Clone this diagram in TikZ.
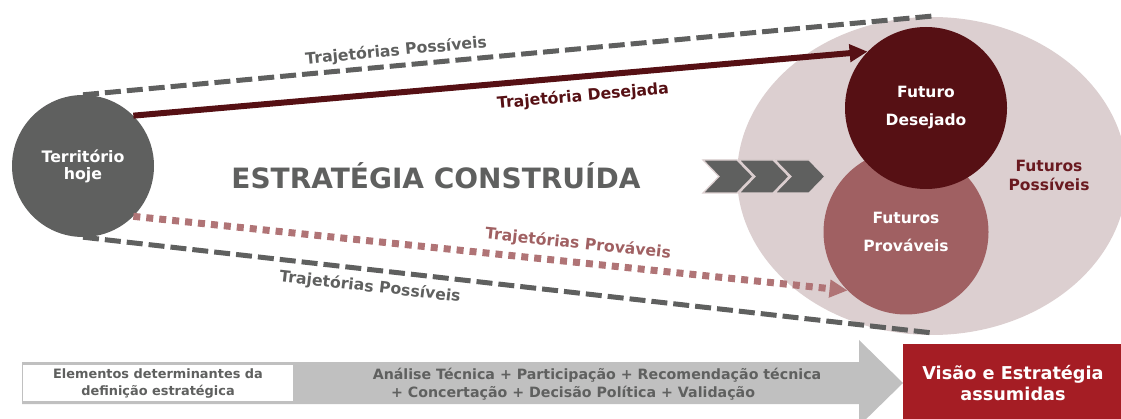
\documentclass[tikz,border=0pt]{standalone}
\usepackage{fontspec}
\setmainfont{DejaVu Sans}
\usetikzlibrary{arrows.meta,shapes.geometric}
\definecolor{cinza}{HTML}{5F605F}
\definecolor{vinho}{HTML}{561014}
\definecolor{vinhotexto}{HTML}{6A1A20}
\definecolor{rosa}{HTML}{A06062}
\definecolor{rosaclaro}{HTML}{B07476}
\definecolor{fundo}{HTML}{DCCFD0}
\definecolor{vermelho}{HTML}{A51D24}
\definecolor{barra}{HTML}{C0C0C0}

\begin{document}
\begin{tikzpicture}[x=1pt, y=-1pt,
  circulo/.style={circle, inner sep=0pt, align=center, text=white, font=\fontsize{15.5}{28}\selectfont\bfseries},
  rotulo/.style={font=\fontsize{15.7}{18}\selectfont\bfseries, sloped, inner sep=3pt},
  tracejado/.style={cinza, line width=5pt, dash pattern=on 16pt off 6pt},
  seta/.style={-{Triangle[length=18pt, width=17pt]}},
  texto/.style={align=center, font=\fontsize{14.2}{18}\selectfont\bfseries}
]
\useasboundingbox (0,0) rectangle (1121,419);
\clip (0,0) rectangle (1121,419);

% futuros
\node[ellipse, fill=fundo, minimum width=390pt, minimum height=318pt, inner sep=0pt] (possiveis) at (932,176) {};
\node[circulo, fill=rosa, minimum size=165pt] (provaveis) at (906,232) {Futuros\\Prováveis};
\node[circulo, fill=vinho, minimum size=162pt] (desejado) at (926,108) {Futuro\\Desejado};
\node[texto, text=vinhotexto, font=\fontsize{15.5}{19}\selectfont\bfseries] (txtpossiveis) at (1049,175) {Futuros\\Possíveis};

% territorio
\node[circulo, fill=cinza, minimum size=142pt, font=\fontsize{15.8}{17}\selectfont\bfseries] (territorio) at (83,166) {Território\\hoje};
\coordinate (fimcima) at (933,16);
\coordinate (fimbaixo) at (933,333);

% trajetorias
\draw[tracejado] (territorio.north) -- (fimcima)
  node[rotulo, pos=0.37, above=1pt, text=cinza] (lblcima) {Trajetórias Possíveis};
\draw[tracejado] (territorio.south) -- (fimbaixo)
  node[rotulo, pos=0.34, below=4pt, text=cinza] (lblbaixo) {Trajetórias Possíveis};
\draw[seta, vinho, line width=6pt] (territorio.45) -- (desejado.136)
  node[rotulo, pos=0.61, below=6pt, text=vinho] (lbldesejada) {Trajetória Desejada};
\draw[seta, rosaclaro, line width=7pt, dash pattern=on 7pt off 6pt] (territorio.-45) -- (provaveis.225)
  node[rotulo, pos=0.62, above=4pt, text=rosa] (lblprovaveis) {Trajetórias Prováveis};

% estrategia
\node[text=cinza, font=\fontsize{28}{30}\selectfont\bfseries] (estrategia) at (436,176) {ESTRATÉGIA CONSTRUÍDA};
\foreach \i in {0,1,2} {
  \filldraw[cinza, draw=fundo, line width=1.2pt] (703+36*\i,160) -- ++(34,0) -- ++(16,16.5) -- ++(-16,16.5) -- ++(-34,0) -- ++(16,-16.5) -- cycle;
}

% barra inferior
\fill[barra] (22,362) -- (859,362) -- (859,340) -- (903,383) -- (859,426) -- (859,404) -- (22,404) -- cycle;
\node[texto, fill=white, text=cinza, minimum width=270pt, minimum height=36pt, font=\fontsize{12.9}{17}\selectfont\bfseries] (elementos) at (158,383) {Elementos determinantes da\\definição estratégica};
\node[texto, text=cinza] (analise) at (597,384) {Análise Técnica + Participação + Recomendação técnica\\+ Concertação + Decisão Política + Validação\hspace*{48pt}};
\node[texto, fill=vermelho, text=white, minimum width=220pt, minimum height=78pt, font=\fontsize{17.7}{21}\selectfont\bfseries] (visao) at (1013,383) {Visão e Estratégia\\assumidas};
\end{tikzpicture}
\end{document}
